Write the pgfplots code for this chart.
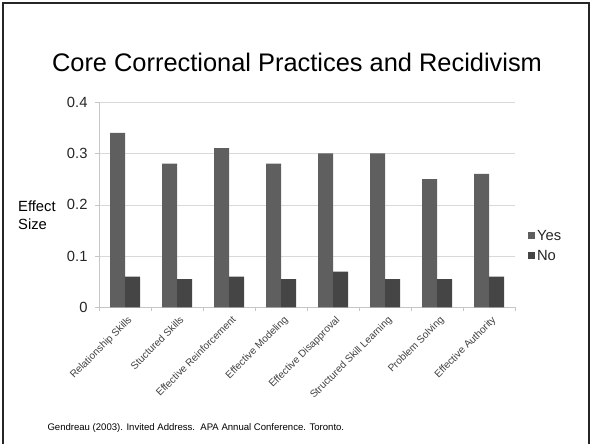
\documentclass[border=0pt]{standalone}
\usepackage{pgfplots}
\pgfplotsset{compat=1.18}
\usepackage{fontspec}
\setmainfont{Liberation Sans}
\definecolor{yescol}{HTML}{5F5F5F}
\definecolor{nocol}{HTML}{454545}
\begin{document}
\begin{tikzpicture}[x=1bp,y=1bp]
\useasboundingbox (0,0) rectangle (592,444);
\draw[line width=2bp, black!85] (3,-2) -- (3,441) -- (589,441) -- (589,-2);
\node[font=\fontsize{25.5}{30}\selectfont] at (297,382) {Core Correctional Practices and Recidivism};
\node[anchor=west, align=left, font=\fontsize{14.8}{18}\selectfont, inner sep=0pt] at (18,229) {Effect\\Size};
\node[anchor=west, font=\fontsize{9.6}{11}\selectfont] at (44,16) {Gendreau (2003). Invited Address.\ \ APA Annual Conference. Toronto.};
\begin{axis}[
  at={(99bp,136.5bp)}, anchor=south west,
  scale only axis, width=416bp, height=205.5bp,
  xmin=-0.5, xmax=7.5, ymin=0, ymax=0.4,
  ybar=0pt, bar width=15bp,
  axis x line*=bottom, axis y line*=left,
  axis line style={draw=gray!45},
  ytick={0,0.1,0.2,0.3,0.4}, yticklabels={0,0.1,0.2,0.3,0.4},
  ymajorgrids, grid style={gray!30},
  major y tick style={draw=gray!45}, major tick length=4bp,
  xtick={0,...,7},
  xticklabels={Relationship Skills,Stuctured Skills,Effective Reinforcement,Effective Modeling,Effective Disapproval,Structured Skill Learning,Problem Solving,Effective Authority},
  major x tick style={draw=none},
  minor xtick={-0.5,0.5,...,7.5}, minor x tick style={draw=gray!45}, minor tick length=4bp, tick align=outside,
  xticklabel style={rotate=45, anchor=north east, font=\fontsize{10.2}{12}\selectfont, text=black!75, inner sep=1bp, yshift=-3bp},
  yticklabel style={font=\fontsize{14.8}{16}\selectfont, text=black!85, xshift=-4bp},
  /pgf/number format/assume math mode=true,
  legend style={at={(1.031,0.30)}, anchor=west, draw=none, fill=none, font=\fontsize{14.8}{16}\selectfont, text=black!85, row sep=4.5bp, inner sep=0pt},
  legend cell align=left,
]
\addplot[fill=yescol, draw=none, legend image code/.code={\fill[yescol] (0bp,-3.5bp) rectangle (7bp,3.5bp);}] coordinates {(0,0.34) (1,0.28) (2,0.31) (3,0.28) (4,0.30) (5,0.30) (6,0.25) (7,0.26)};
\addlegendentry{Yes}
\addplot[fill=nocol, draw=none, legend image code/.code={\fill[nocol] (0bp,-3.5bp) rectangle (7bp,3.5bp);}] coordinates {(0,0.06) (1,0.055) (2,0.06) (3,0.055) (4,0.07) (5,0.055) (6,0.055) (7,0.06)};
\addlegendentry{No}
\end{axis}
\end{tikzpicture}
\end{document}
